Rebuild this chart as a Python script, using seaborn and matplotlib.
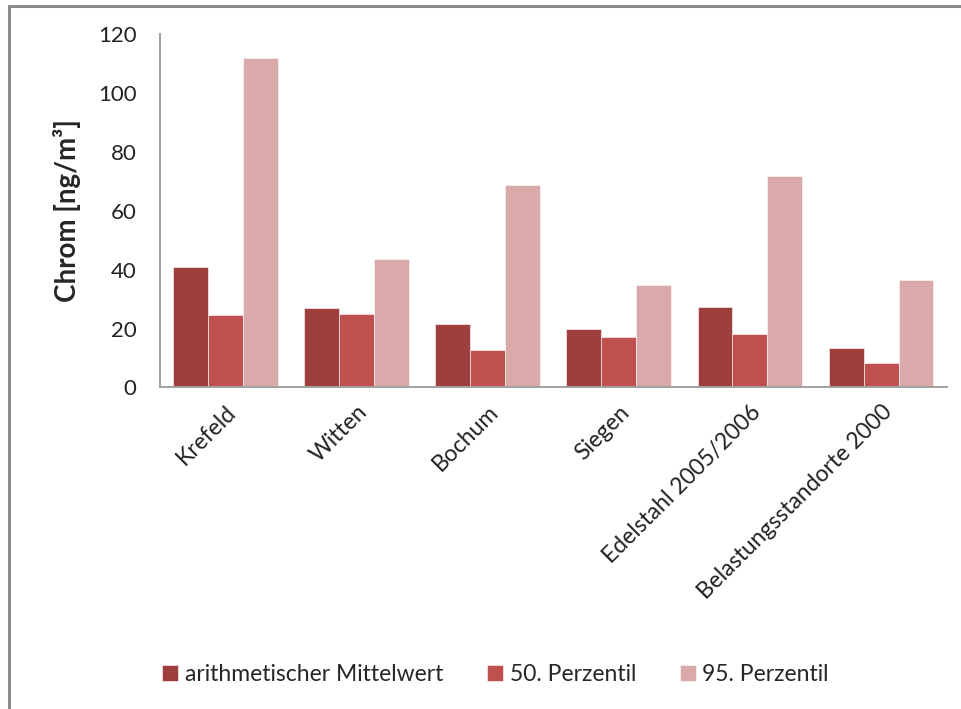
import numpy as np
import pandas as pd
import matplotlib
matplotlib.use("Agg")
import matplotlib.pyplot as plt
import seaborn as sns
from matplotlib.lines import Line2D

# values (ng/m3)
SITES = ["Krefeld", "Witten", "Bochum", "Siegen",
         "Edelstahl 2005/2006", "Belastungsstandorte 2000"]
SERIES = ["arithmetischer Mittelwert", "50. Perzentil", "95. Perzentil"]
MEAN = [40.8, 26.9, 21.5, 19.8, 27.3, 13.4]
P50 = [24.6, 25.0, 12.9, 17.1, 18.2, 8.2]
P95 = [112.0, 43.7, 68.8, 34.7, 71.9, 36.5]
COLORS = ["#9E3F3E", "#C0504D", "#DAA9A9"]

df = pd.DataFrame({"Standort": SITES * 3,
                   "Serie": np.repeat(SERIES, len(SITES)),
                   "Wert": MEAN + P50 + P95})

sns.set_style("white")
plt.rcParams["font.family"] = ["Lato", "DejaVu Sans"]

fig = plt.figure(figsize=(9.62, 7.09), dpi=100)
ax = fig.add_axes([0.1663, 0.4535, 0.8177, 0.4981])
sns.barplot(data=df, x="Standort", y="Wert", hue="Serie", order=SITES,
            hue_order=SERIES, palette=COLORS, width=0.8, saturation=1,
            edgecolor="white", linewidth=0.4, ax=ax)

ax.set_ylim(0, 120)
ax.set_yticks(range(0, 121, 20))
ax.set_xlim(-0.5, len(SITES) - 0.5)
ax.tick_params(axis="y", labelsize=16, length=0, pad=17, colors="#222222")
ax.tick_params(axis="x", labelsize=16.5, length=0, pad=10, colors="#222222")
for lab in ax.get_xticklabels():
    lab.set_rotation(45)
    lab.set_ha("right")
    lab.set_rotation_mode("anchor")
ax.set_xlabel("")
ax.set_ylabel("Chrom [ng/m³]", fontsize=20, fontweight="bold", labelpad=12)
for s in ["top", "right"]:
    ax.spines[s].set_visible(False)
for s in ["left", "bottom"]:
    ax.spines[s].set_color("#A0A0A0")
    ax.spines[s].set_linewidth(1.4)

handles = ax.get_legend_handles_labels()[0]
ax.legend_.remove()
fig.legend(handles, SERIES, loc="center", bbox_to_anchor=(0.515, 0.048),
           ncol=3, frameon=False, fontsize=16.5, handlelength=0.7,
           handleheight=0.7, handletextpad=0.3, columnspacing=1.9)

# outer frame (top and left edges only, as in the reference)
fig.add_artist(Line2D([0.0095, 0.0095], [0.0, 0.991], transform=fig.transFigure,
                      color="#8C8C8C", lw=2.2))
fig.add_artist(Line2D([0.0095, 1.0], [0.991, 0.991], transform=fig.transFigure,
                      color="#8C8C8C", lw=2.2))

fig.savefig("out.png", dpi=100)
